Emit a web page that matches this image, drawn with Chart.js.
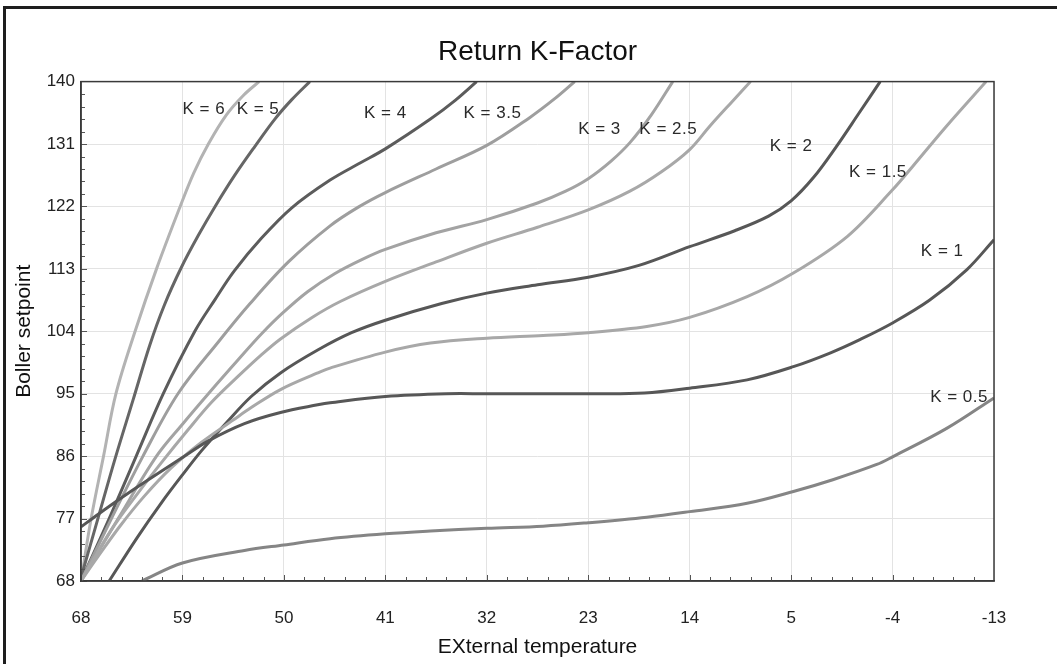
<!DOCTYPE html>
<html><head><meta charset="utf-8">
<script src="https://cdn.jsdelivr.net/npm/chart.js@4.4.1/dist/chart.umd.min.js"></script>
<style>
html,body{margin:0;padding:0;background:#fff;}
#wrap{position:relative;width:1057px;height:664px;overflow:hidden;background:#fff;}
#frame{position:absolute;left:3px;top:6px;width:1100px;height:700px;border-left:3px solid #1e1e1e;border-top:3px solid #1e1e1e;pointer-events:none;}
canvas{position:absolute;left:0;top:0;}
</style></head><body>
<div id="wrap"><canvas id="c" width="1057" height="664"></canvas><div id="frame"></div></div>
<script>
// Axis ticks
const xTicks = [68, 59, 50, 41, 32, 23, 14, 5, -4, -13];
const yTicks = [68, 77, 86, 95, 104, 113, 122, 131, 140];

// Curves (external temperature -> boiler setpoint)
const k05X = [62.6, 59, 53.5, 50, 45.9, 41, 37, 32, 27, 23, 17.8, 14, 8.9, 4.8, 1.3, -2.6, -4, -8.8, -13];
const k05Y = [68, 70.6, 72.4, 73.2, 74.1, 74.8, 75.2, 75.6, 75.9, 76.4, 77.2, 78, 79.2, 80.9, 82.6, 84.8, 85.9, 90, 94.4];

const k1X = [68, 66.5, 64.5, 62.4, 59, 56.7, 53.5, 50.3, 47, 45.9, 41, 35.6, 32, 27, 23, 18, 14, 8.9, 4.8, 1.5, -1.1, -4, -7.3, -10.6, -13];
const k1Y = [75.8, 77.6, 79.9, 82.2, 85.8, 88.2, 90.7, 92.3, 93.4, 93.7, 94.6, 95, 95, 95, 95, 95.1, 95.8, 97, 98.9, 100.9, 102.8, 105.2, 108.5, 112.9, 117.2];

const k15X = [68, 66.5, 64.5, 62.4, 60, 57.3, 54.5, 52.9, 50.3, 47, 45.9, 41, 37, 32, 27, 23, 17.8, 14, 8.9, 4.8, 0, -4, -5.8, -8.8, -12.3];
const k15Y = [68, 71.5, 76, 80.2, 84.3, 88, 91.2, 93, 95.6, 98, 98.7, 101, 102.3, 103, 103.4, 103.8, 104.7, 106, 109, 112.4, 117.7, 124.4, 127.8, 133.6, 140];

const k2X = [65.5, 63, 60.9, 59, 57.3, 55, 52.9, 50.3, 47, 44, 41, 36, 32, 27.5, 23, 18.5, 14, 10, 7, 5, 3, 1, -1, -2.9];
const k2Y = [68, 74.3, 79.2, 83.3, 86.8, 91, 94.6, 98, 101.3, 103.8, 105.6, 108, 109.5, 110.7, 111.8, 113.5, 116.2, 118.5, 120.6, 122.8, 126.2, 130.6, 135.4, 140];

const k25X = [68, 65.3, 62.8, 60.9, 58.5, 56.4, 54, 52, 50.3, 47.5, 45, 41, 36.5, 32, 27.5, 23, 19.3, 16.5, 14, 12.2, 10.3, 8.6];
const k25Y = [68, 75.4, 81, 85, 89.8, 93.8, 97.6, 100.6, 102.9, 106, 108.3, 111.2, 114, 116.7, 119, 121.5, 124.2, 127, 130.2, 133.6, 137, 140];

const k3X = [68, 64.7, 61.3, 59, 56.7, 54, 52, 50.2, 47.9, 45.5, 43, 41, 36.5, 32, 27.5, 25, 23, 21, 19.3, 17.4, 15.5];
const k3Y = [68, 77, 86, 90.6, 95, 100, 103.6, 106.5, 109.7, 112.3, 114.4, 115.8, 118.2, 120.1, 122.5, 124.2, 126, 128.5, 131.2, 135.2, 140];

const k35X = [68, 65.3, 62.5, 59.4, 55.8, 53, 49.6, 45.9, 43.4, 41, 36.5, 32, 28.2, 26, 24.2];
const k35Y = [68, 77, 86, 95, 102.5, 108, 114, 119.2, 121.9, 124, 127.4, 130.8, 134.8, 137.5, 140];

const k4X = [68, 65.5, 63.1, 60.7, 57.9, 56.1, 54.4, 52, 49.3, 45.9, 43.2, 41, 37, 34.8, 32.9];
const k4Y = [68, 77, 86, 95, 104, 108.6, 112.7, 117.4, 121.8, 125.8, 128.3, 130.3, 134.6, 137.3, 140];

const k5X = [68, 66.5, 65, 63.4, 61.9, 60.6, 59.1, 57.6, 56.1, 54.4, 52.6, 50.8, 49.3, 47.7];
const k5Y = [68.5, 77, 85.5, 94, 102, 107.8, 113.2, 117.8, 122, 126.4, 130.6, 134.6, 137.4, 140];

const k6X = [68, 67.1, 66, 64.9, 63.2, 61.3, 59.2, 58, 56.7, 55.1, 53.6, 52.2];
const k6Y = [68, 77, 86, 95, 104, 113, 122, 126.8, 131, 135.2, 138, 140];

// Curve labels
const curveNames = ['K = 0.5', 'K = 1', 'K = 1.5', 'K = 2', 'K = 2.5', 'K = 3', 'K = 3.5', 'K = 4', 'K = 5', 'K = 6'];
const labelX = [-9.9, -8.4, -2.7, 5, 15.9, 22, 31.5, 41, 52.3, 57.1];
const labelY = [94.5, 115.5, 126.9, 130.7, 133.1, 133.1, 135.4, 135.4, 136, 136];

const seriesX = [k05X, k1X, k15X, k2X, k25X, k3X, k35X, k4X, k5X, k6X];
const seriesY = [k05Y, k1Y, k15Y, k2Y, k25Y, k3Y, k35Y, k4Y, k5Y, k6Y];
const colors = ['#858585', '#575757', '#a8a8a8', '#575757', '#a8a8a8', '#a3a3a3', '#9e9e9e', '#5c5c5c', '#666666', '#b3b3b3'];

Chart.defaults.font.family = '"Liberation Sans", Arial, Helvetica, sans-serif';

const datasets = seriesX.map((xs, i) => ({
  label: curveNames[i],
  data: xs.map((x, j) => ({x: x, y: seriesY[i][j]})),
  borderColor: colors[i],
  borderWidth: 3,
  pointRadius: 0,
  fill: false,
  tension: 0.35
}));

const decor = {
  id: 'decor',
  afterDatasetsDraw(chart) {
    const {ctx, chartArea: a, scales: {x, y}} = chart;
    ctx.save();
    // minor ticks
    ctx.strokeStyle = '#555';
    ctx.lineWidth = 1;
    ctx.beginPath();
    for (let i = 0; i < xTicks.length - 1; i++) {
      const s = (xTicks[i + 1] - xTicks[i]) / 5;
      for (let k = 0; k < 5; k++) {
        const px = Math.round(x.getPixelForValue(xTicks[i] + k * s)) + 0.5;
        ctx.moveTo(px, a.bottom); ctx.lineTo(px, a.bottom - (k === 0 ? 6 : 4));
      }
    }
    for (let i = 0; i < yTicks.length - 1; i++) {
      const s = (yTicks[i + 1] - yTicks[i]) / 5;
      for (let k = 0; k < 5; k++) {
        const py = Math.round(y.getPixelForValue(yTicks[i] + k * s)) + 0.5;
        ctx.moveTo(a.left, py); ctx.lineTo(a.left + (k === 0 ? 6 : 4), py);
      }
    }
    ctx.stroke();
    // frame of plot area
    ctx.strokeStyle = '#3a3a3a';
    ctx.lineWidth = 1.5;
    ctx.strokeRect(a.left, a.top, a.right - a.left, a.bottom - a.top);
    // curve labels
    ctx.font = '17px "Liberation Sans", Arial, sans-serif';
    if ('letterSpacing' in ctx) ctx.letterSpacing = '0.5px';
    ctx.fillStyle = '#2a2a2a';
    ctx.textAlign = 'center';
    ctx.textBaseline = 'middle';
    curveNames.forEach((t, i) => {
      ctx.fillText(t, x.getPixelForValue(labelX[i]), y.getPixelForValue(labelY[i]));
    });
    ctx.restore();
  }
};

new Chart(document.getElementById('c'), {
  type: 'line',
  data: {datasets},
  plugins: [decor],
  options: {
    responsive: false,
    animation: false,
    devicePixelRatio: 1,
    layout: {padding: {left: 0, right: 63, top: 0, bottom: 0}},
    plugins: {
      legend: {display: false},
      tooltip: {enabled: false},
      title: {
        display: true, text: 'Return K-Factor', fullSize: false,
        color: '#111', font: {size: 28, weight: 'normal'},
        padding: {top: 35, bottom: 13}
      }
    },
    scales: {
      x: {
        type: 'linear', reverse: true, min: -13, max: 68,
        afterBuildTicks: s => { s.ticks = xTicks.map(v => ({value: v})); },
        afterFit: s => { s.height = 83; },
        ticks: {color: '#222', font: {size: 17}, padding: 27, maxRotation: 0, autoSkip: false, callback: v => String(v)},
        grid: {color: '#e3e3e3', drawTicks: false},
        border: {color: '#3a3a3a', width: 1.5},
        title: {display: true, text: 'EXternal temperature', color: '#111', font: {size: 21}, padding: {top: 0, bottom: 4}}
      },
      y: {
        type: 'linear', min: 68, max: 140,
        afterBuildTicks: s => { s.ticks = yTicks.map(v => ({value: v})); },
        afterFit: s => { s.width = 81; },
        ticks: {color: '#222', font: {size: 17}, padding: 6, autoSkip: false, callback: v => String(v)},
        grid: {color: '#e3e3e3', drawTicks: false},
        border: {color: '#3a3a3a', width: 1.5},
        title: {display: true, text: 'Boller setpoint', color: '#111', font: {size: 21}, padding: {top: 12, bottom: 0}}
      }
    }
  }
});
</script>
</body></html>
